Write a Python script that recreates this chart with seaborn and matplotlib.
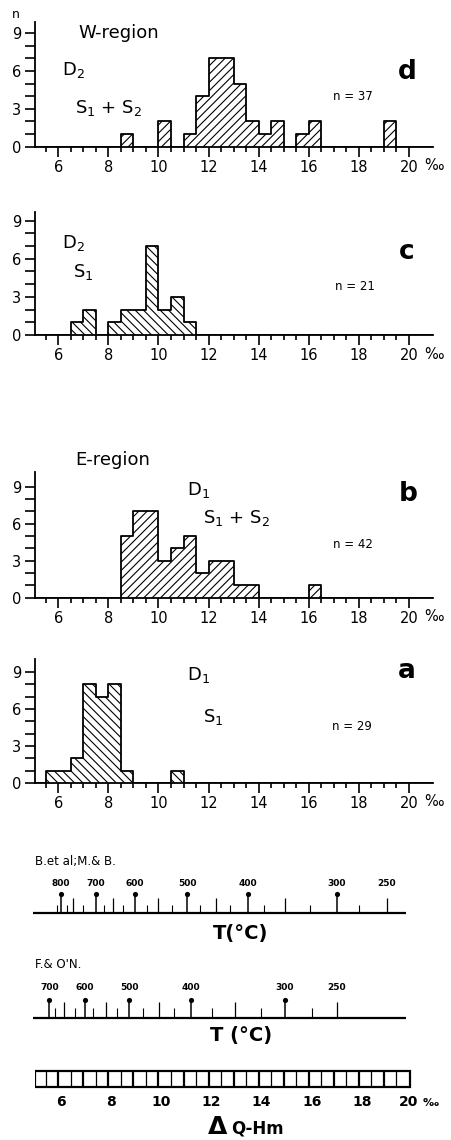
import numpy as np
import pandas as pd
import matplotlib
matplotlib.use("Agg")
import matplotlib.pyplot as plt
import seaborn as sns
from matplotlib.patches import Rectangle

sns.set_style("ticks")
plt.rcParams["font.family"] = ["DejaVu Sans"]
plt.rcParams["mathtext.default"] = "regular"
plt.rcParams["hatch.linewidth"] = 0.8
plt.rcParams["hatch.color"] = "black"
for k in ["text.color", "axes.labelcolor", "xtick.color", "ytick.color", "axes.edgecolor"]:
    plt.rcParams[k] = "black"

# histogram data: left edge of each 0.5 permil bin and its count
d_left = [8.5, 10.0, 11.0, 11.5, 12.0, 12.5, 13.0, 13.5, 14.0, 14.5, 15.5, 16.0, 19.0]
d_count = [1, 2, 1, 4, 7, 7, 5, 2, 1, 2, 1, 2, 2]

c_left = [6.5, 7.0, 8.0, 8.5, 9.0, 9.5, 10.0, 10.5, 11.0]
c_count = [1, 2, 1, 2, 2, 7, 2, 3, 1]

b_left = [8.5, 9.0, 9.5, 10.0, 10.5, 11.0, 11.5, 12.0, 12.5, 13.0, 13.5, 16.0]
b_count = [5, 7, 7, 3, 4, 5, 2, 3, 3, 1, 1, 1]

a_left = [5.5, 6.0, 6.5, 7.0, 7.5, 8.0, 8.5, 10.5]
a_count = [1, 1, 2, 8, 7, 8, 1, 1]

# temperature scales (T in degC at positions in permil)
bm_temps = [825, 800, 775, 750, 725, 700, 675, 650, 625, 600, 575, 550,
            525, 500, 475, 450, 425, 400, 375, 350, 325, 300, 275, 250]
bm_pos = [5.94, 6.11, 6.36, 6.60, 6.98, 7.51, 7.83, 8.20, 8.60, 9.07, 9.54, 10.00,
          10.54, 11.14, 11.67, 12.31, 12.87, 13.56, 14.20, 15.07, 16.04, 17.11, 18.00, 19.11]

fo_temps = [700, 675, 650, 625, 600, 575, 550, 525, 500, 475, 450, 425,
            400, 375, 350, 325, 300, 275, 250]
fo_pos = [5.64, 5.87, 6.23, 6.67, 7.07, 7.40, 7.91, 8.36, 8.84, 9.40, 10.04, 10.60,
          11.30, 12.14, 13.07, 14.10, 15.04, 16.14, 17.11]

xtick_vals = [6, 8, 10, 12, 14, 16, 18, 20]

W, H = 451, 1140
X0, X1 = 35, 433
XLIM = (5.07, 20.96)

fig = plt.figure(figsize=(W / 100, H / 100), dpi=100)


def px_rect(top, bottom):
    return [X0 / W, 1 - bottom / H, (X1 - X0) / W, (bottom - top) / H]


def ftext(x, y, s, **kw):
    return fig.text(x / W, 1 - y / H, s, **kw)


panels = [
    ("d", d_left, d_count, 21.7, 146.7, 9.9, "////"),
    ("c", c_left, c_count, 211.7, 335.0, 9.7, "\\\\\\\\"),
    ("b", b_left, b_count, 471.7, 597.7, 10.2, "////"),
    ("a", a_left, a_count, 659.0, 783.0, 10.05, "\\\\\\\\"),
]

for key, left, counts, top, bottom, ymax, hatch in panels:
    ax = fig.add_axes(px_rect(top, bottom))
    df = pd.DataFrame({"delta": np.asarray(left) + 0.25, "n": counts})
    sns.histplot(data=df, x="delta", weights="n", binwidth=0.5, binrange=(5.0, 21.0),
                 element="bars", fill=True, linewidth=0, ax=ax)
    for p in ax.patches:
        p.set_facecolor("white")
        p.set_alpha(1)
        p.set_edgecolor("black")
        p.set_linewidth(0)
        p.set_hatch(hatch)
    sns.histplot(data=df, x="delta", weights="n", binwidth=0.5, binrange=(5.0, 21.0),
                 element="step", fill=False, color="black", linewidth=1.3, ax=ax)
    ax.set_xlim(XLIM)
    ax.set_ylim(0, ymax)
    ax.set_xlabel("")
    ax.set_ylabel("")
    ax.spines[["top", "right"]].set_visible(False)
    for s in ["left", "bottom"]:
        ax.spines[s].set_linewidth(1.3)
    ax.set_xticks(xtick_vals)
    ax.set_xticklabels([str(v) for v in xtick_vals])
    ax.set_xticks(np.arange(5.5, 20.0, 0.5), minor=True)
    ax.set_yticks([0, 3, 6, 9])
    ax.set_yticks(range(0, 10), minor=True)
    ax.tick_params(axis="x", which="major", length=7, width=1.2, labelsize=10.5, pad=2.5)
    ax.tick_params(axis="x", which="minor", length=3.5, width=1.2)
    ax.tick_params(axis="y", which="both", length=7, width=1.2, labelsize=10.5, pad=3)
    ftext(434, bottom + 19, "\u2030", ha="center", va="center", fontsize=10.5)

# panel annotations
ftext(16, 15, "n", ha="center", va="center", fontsize=9)
ftext(78, 38, "W-region", ha="left", va="baseline", fontsize=13)
ftext(62, 75, "D$_2$", ha="left", va="baseline", fontsize=13)
ftext(75, 113, "S$_1$ + S$_2$", ha="left", va="baseline", fontsize=13)
ftext(407, 72, "d", ha="center", va="center", fontsize=19, weight="bold")
ftext(333, 96, "n = 37", ha="left", va="center", fontsize=8.5)

ftext(62, 248, "D$_2$", ha="left", va="baseline", fontsize=13)
ftext(73, 277, "S$_1$", ha="left", va="baseline", fontsize=13)
ftext(407, 252, "c", ha="center", va="center", fontsize=19, weight="bold")
ftext(335, 287, "n = 21", ha="left", va="center", fontsize=8.5)

ftext(75, 465, "E-region", ha="left", va="baseline", fontsize=13)
ftext(187, 495, "D$_1$", ha="left", va="baseline", fontsize=13)
ftext(203, 523, "S$_1$ + S$_2$", ha="left", va="baseline", fontsize=13)
ftext(408, 494, "b", ha="center", va="center", fontsize=19, weight="bold")
ftext(333, 545, "n = 42", ha="left", va="center", fontsize=8.5)

ftext(187, 680, "D$_1$", ha="left", va="baseline", fontsize=13)
ftext(203, 722, "S$_1$", ha="left", va="baseline", fontsize=13)
ftext(407, 671, "a", ha="center", va="center", fontsize=19, weight="bold")
ftext(332, 726, "n = 29", ha="left", va="center", fontsize=8.5)

# bottom section: temperature scales and permil box
axb = fig.add_axes([X0 / W, 0, (X1 - X0) / W, 290 / H])


def temp_scale(temps, pos, base, pin_h, tall_h, short_h, label_y):
    temps = np.asarray(temps)
    pos = np.asarray(pos)
    hundreds = temps % 100 == 0
    fifties = (temps % 50 == 0) & ~hundreds
    others = ~(hundreds | fifties)
    axb.hlines(base, 5.0, 19.9, color="black", lw=1.6, clip_on=False)
    axb.vlines(pos[hundreds], base, base - pin_h, color="black", lw=1.1)
    axb.vlines(pos[fifties], base, base - tall_h, color="black", lw=0.9)
    axb.vlines(pos[others], base, base - short_h, color="black", lw=0.8)
    dots = pd.DataFrame({"x": pos[hundreds], "y": np.full(hundreds.sum(), base - pin_h)})
    sns.scatterplot(data=dots, x="x", y="y", s=14, color="black", linewidth=0,
                    ax=axb, legend=False)
    for t, p in zip(temps, pos):
        if t % 100 == 0 or t == 250:
            axb.text(p, label_y, str(t), ha="center", va="center",
                     fontsize=6.5, weight="bold")


temp_scale(bm_temps, bm_pos, 913, 19, 15, 8, 884)
temp_scale(fo_temps, fo_pos, 1018, 18, 16, 10, 988)

axb.vlines(5.03, 892, 1087, color="black", lw=1.3)
axb.add_patch(Rectangle((5.07, 1071), 20.05 - 5.07, 16, fill=False, lw=1.6, ec="black"))
for v in np.arange(5.5, 20.0, 0.5):
    axb.vlines(v, 1071, 1087, color="black", lw=1.6 if v % 1 == 0 else 0.9)

for v in xtick_vals[:-1]:
    axb.text(v + 0.12, 1102, str(v), ha="center", va="center", fontsize=10, weight="bold")
axb.text(20.0, 1102, "20", ha="center", va="center", fontsize=10, weight="bold")
axb.text(20.85, 1103, "\u2030", ha="center", va="center", fontsize=8, weight="bold")

axb.set_xlim(XLIM)
axb.set_ylim(1140, 850)
axb.axis("off")

ftext(35, 861, "B.et al;M.& B.", ha="left", va="center", fontsize=8.5)
ftext(35, 964, "F.& O'N.", ha="left", va="center", fontsize=8.5)
ftext(241, 933, "T(\u00b0C)", ha="center", va="center", fontsize=14, weight="bold")
ftext(241, 1035, "T (\u00b0C)", ha="center", va="center", fontsize=14, weight="bold")
ftext(208, 1134, "\u0394", ha="left", va="baseline", fontsize=18, weight="bold")
ftext(231, 1134, "Q-Hm", ha="left", va="baseline", fontsize=12, weight="bold")

fig.savefig("out.png", dpi=100)
